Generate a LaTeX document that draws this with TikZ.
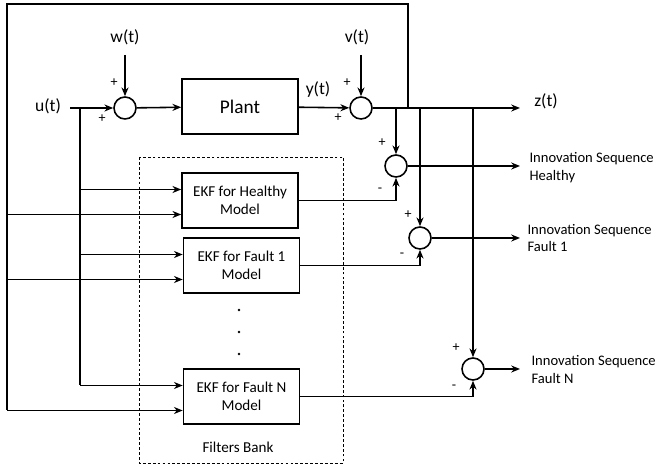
\documentclass[tikz,border=0pt]{standalone}
\usepackage{fontspec}
\setmainfont{Carlito}
\usetikzlibrary{positioning}
\usetikzlibrary{arrows.meta}
\usetikzlibrary{calc}

\begin{document}
\begin{tikzpicture}[x=0.02cm, y=-0.02cm, line width=0.9pt,
    sig/.style={-{Stealth[length=5pt, width=4pt]}},
    sumnode/.style={draw, circle, minimum size=0.44cm, inner sep=0pt},
    blk/.style={draw, rectangle, minimum width=2.32cm, minimum height=1.1cm, align=center, font=\fontsize{8.6}{10.2}\selectfont},
    lbl/.style={font=\fontsize{10}{12}\selectfont},
    sgn/.style={font=\fontsize{8}{9}\selectfont, inner sep=0pt},
    outlbl/.style={anchor=west, align=left, inner sep=1pt, font=\fontsize{8.3}{10.2}\selectfont}]
    \useasboundingbox (0,0) rectangle (663,469);

    \draw[dashed, line width=0.5pt, dash pattern=on 1.6pt off 1.2pt] (139,157) rectangle (343,463);
    \node[font=\fontsize{8.6}{10}\selectfont] (fbank) at (238,447) {Filters Bank};

    \coordinate (uin) at (70,108);
    \coordinate (ubus) at (80,108);
    \coordinate (wtop) at (125,55);
    \coordinate (vtop) at (361,55);
    \coordinate (fbj) at (408,108);
    \coordinate (fbl) at (7,4);
    \coordinate (zend) at (520,108);
    \coordinate (outx) at (520,0);

    \node[sumnode] (sumw) at (125,108) {};
    \node[sumnode] (sumv) at (361,108) {};
    \node[blk, font=\fontsize{11}{13}\selectfont] (plant) at (240,106.5) {Plant};
    \node[blk] (ekfh) at (240,200.5) {EKF for Healthy\\Model};
    \node[blk] (ekf1) at (241.5,265.5) {EKF for Fault 1\\Model};
    \node[blk] (ekfn) at (241.5,396.5) {EKF for Fault N\\Model};
    \node[sumnode] (sumh) at (396,166) {};
    \node[sumnode] (sum1) at (420,238) {};
    \node[sumnode] (sumn) at (473,369) {};

    \node[lbl] (ulbl) at (48,106) {u(t)};
    \node[lbl] (wlbl) at (125,37) {w(t)};
    \node[lbl] (vlbl) at (357,37) {v(t)};
    \node[lbl] (ylbl) at (318,89) {y(t)};
    \node[lbl] (zlbl) at (546,101) {z(t)};

    \node[sgn] (sw1) at (114,83) {+};
    \node[sgn] (sw2) at (102,119) {+};
    \node[sgn] (sv1) at (347,83) {+};
    \node[sgn] (sv2) at (338,118) {+};
    \node[sgn] (sh1) at (382,143) {+};
    \node[sgn] (sh2) at (380,190) {-};
    \node[sgn] (s11) at (408,215) {+};
    \node[sgn] (s12) at (402,255) {-};
    \node[sgn] (sn1) at (456,348) {+};
    \node[sgn] (sn2) at (454,387) {-};

    \draw[sig] (uin) -- (sumw);
    \draw[sig] (wtop) -- (sumw);
    \draw[sig] (sumw) -- (plant);
    \draw[sig] (plant) -- (sumv);
    \draw[sig] (vtop) -- (sumv);
    \draw[sig] (sumv) -- (zend);

    \foreach \b/\s in {ekfh/sumh, ekf1/sum1, ekfn/sumn} {
        \coordinate (\b-a) at ($(\b.west)+(0,-11)$);
        \coordinate (\b-b) at ($(\b.west)+(0,14)$);
        \draw[sig] (ubus |- \b-a) -- (\b-a);
        \draw[sig] (fbl |- \b-b) -- (\b-b);
        \draw[sig] (\b.east) -| (\s);
        \draw[sig] (\s |- sumv) -- (\s);
        \draw[sig] (\s) -- (\s -| outx);
    }
    \draw (ubus) -- (ubus |- ekfn-a);
    \draw (fbj) |- (fbl) -- (fbl |- ekfn-b);

    \foreach \yy in {310,332,354}
        \fill (239,\yy) circle (1.3);

    \node[outlbl] (innh) at (527,168) {Innovation Sequence\\Healthy};
    \node[outlbl] (inn1) at (525,238) {Innovation Sequence\\Fault 1};
    \node[outlbl] (innn) at (529,369.5) {Innovation Sequence\\Fault N};
\end{tikzpicture}
\end{document}
